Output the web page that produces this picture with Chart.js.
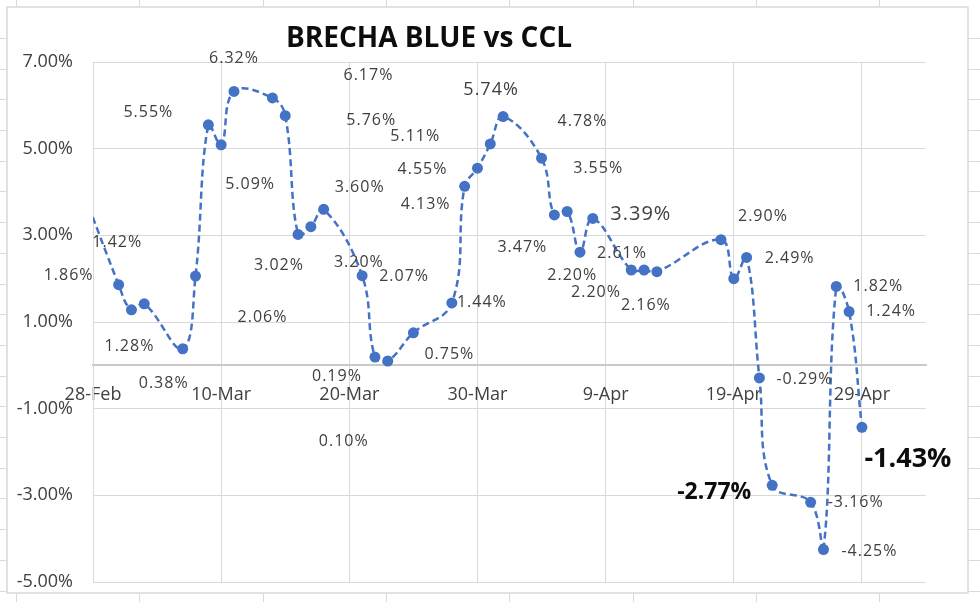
<!DOCTYPE html>
<html><head><meta charset="utf-8">
<script src="https://cdn.jsdelivr.net/npm/chart.js@4.4.0/dist/chart.umd.min.js"></script>
<style>html,body{margin:0;padding:0;background:#fff;overflow:hidden}#wrap{position:relative;width:980px;height:602px}</style>
</head><body><div id="wrap"><canvas id="c" width="980" height="602"></canvas></div>
<script>
const chartTitle = 'BRECHA BLUE vs CCL';
const baseDate = '2022-02-28';
const dates = ['2022-02-25','2022-03-02','2022-03-03','2022-03-04','2022-03-07','2022-03-08','2022-03-09','2022-03-10','2022-03-11',
  '2022-03-14','2022-03-15','2022-03-16','2022-03-17','2022-03-18','2022-03-21','2022-03-22','2022-03-23','2022-03-25',
  '2022-03-28','2022-03-29','2022-03-30','2022-03-31','2022-04-01','2022-04-04','2022-04-05','2022-04-06','2022-04-07','2022-04-08',
  '2022-04-11','2022-04-12','2022-04-13','2022-04-18','2022-04-19','2022-04-20','2022-04-21','2022-04-22','2022-04-25','2022-04-26',
  '2022-04-27','2022-04-28','2022-04-29'];
const values = [5.80,1.86,1.28,1.42,0.38,2.06,5.55,5.09,6.32,
  6.17,5.76,3.02,3.20,3.60,2.07,0.19,0.10,0.75,
  1.44,4.13,4.55,5.11,5.74,4.78,3.47,3.55,2.61,3.39,
  2.20,2.20,2.16,2.90,2.00,2.49,-0.29,-2.77,-3.16,-4.25,
  1.82,1.24,-1.43];
const xTickDates = ['2022-02-28','2022-03-10','2022-03-20','2022-03-30','2022-04-09','2022-04-19','2022-04-29'];
const xTickLabels = ['28-Feb','10-Mar','20-Mar','30-Mar','9-Apr','19-Apr','29-Apr'];
const yTicks = [-5,-3,-1,1,3,5,7];

// label placement relative to each point (pixels) and label style; null = no label
const labelOffsets = [null,[-50,-9],[-2,37],[-27,-61],[-19,35],[67,41],[-60,-12],[29,40],[0,-33],
  [96,-23],[86,5],[-19,31],[48,36],[36,-22],[42,1],[-38,19],[-44,80],[36,22],
  [30,0],[-39,18],[-55,1],[-75,-7],[-12,-27],[41,-37],[-32,32],[31,-43],[42,1],[48,-4],
  [-59,5],[-48,22],[-11,34],[42,-23],null,[43,1],[45,2],[-58,7],[45,0],[46,2],
  [42,0],[42,0],[46,32]];
const labelStyles = ['n','n','n','n','n','n','n','n','n',
  'n','n','n','n','n','n','n','n','n',
  'n','n','n','n','m','n','n','n','n','l',
  'n','n','n','n','n','n','n','b','n','n',
  'n','n','B'];
const styleFonts = {n:'16px "Open Sans"', m:'18px "Open Sans"', l:'20px "Open Sans"', b:'bold 23px "Open Sans"', B:'bold 27px "Open Sans"'};

const DAY = 86400000;
const toDay = s => Math.round((Date.parse(s + 'T00:00:00Z') - Date.parse(baseDate + 'T00:00:00Z')) / DAY);
const points = dates.map((d, i) => ({x: toDay(d), y: values[i]}));
const xTickDays = xTickDates.map(toDay);
const BLUE = '#4472C4';
const FONT = '"Open Sans", "Noto Sans", sans-serif';

const framePlugin = {
  id: 'frame',
  beforeDraw(chart) {
    const ctx = chart.ctx;
    ctx.save();
    ctx.fillStyle = '#fff';
    ctx.fillRect(0, 0, 980, 602);
    ctx.strokeStyle = '#dadada';
    ctx.lineWidth = 1;
    // spreadsheet cell lines outside chart
    ctx.beginPath();
    for (let x = 16; x < 980; x += 123.3) {
      ctx.moveTo(Math.round(x) + 0.5, 0); ctx.lineTo(Math.round(x) + 0.5, 7);
      ctx.moveTo(Math.round(x) + 0.5, 593); ctx.lineTo(Math.round(x) + 0.5, 602);
    }
    for (let y = 38; y < 602; y += 30.7) {
      ctx.moveTo(0, Math.round(y) + 0.5); ctx.lineTo(7, Math.round(y) + 0.5);
      ctx.moveTo(968, Math.round(y) + 0.5); ctx.lineTo(980, Math.round(y) + 0.5);
    }
    ctx.stroke();
    ctx.strokeStyle = '#d9d9d9';
    ctx.lineWidth = 1.5;
    ctx.strokeRect(7, 7, 961, 586);
    ctx.restore();
  },
  afterDatasetsDraw(chart) {
    const ctx = chart.ctx;
    const meta = chart.getDatasetMeta(0);
    ctx.save();
    ctx.textAlign = 'center';
    ctx.textBaseline = 'middle';
    meta.data.forEach((pt, i) => {
      const off = labelOffsets[i];
      if (!off) return;
      const st = labelStyles[i];
      ctx.font = styleFonts[st];
      ctx.letterSpacing = (st === 'b' || st === 'B') ? '0px' : '1px';
      ctx.fillStyle = (st === 'b' || st === 'B') ? '#0d0d0d' : '#404040';
      const v = values[i];
      ctx.fillText(v.toFixed(2) + '%', pt.x + off[0], pt.y + off[1]);
    });
    ctx.restore();
  },
  afterDraw(chart) {
    const ctx = chart.ctx;
    ctx.save();
    ctx.font = 'bold 28px "Open Sans"';
    ctx.fillStyle = '#0d0d0d';
    ctx.textAlign = 'center';
    ctx.textBaseline = 'alphabetic';
    ctx.fillText(chartTitle, 429, 47);
    ctx.restore();
  }
};

new Chart(document.getElementById('c'), {
  type: 'line',
  data: {
    datasets: [{
      data: points,
      borderColor: BLUE,
      backgroundColor: BLUE,
      borderWidth: 2.5,
      borderDash: [7, 4],
      pointRadius: 5.5,
      pointBackgroundColor: BLUE,
      pointBorderColor: BLUE,
      pointBorderWidth: 0,
      tension: 0.4,
      clip: 0
    }]
  },
  options: {
    responsive: false,
    animation: false,
    devicePixelRatio: 1,
    layout: {padding: {left: 13, top: 62, right: 54, bottom: 20}},
    plugins: {legend: {display: false}, title: {display: false}, tooltip: {enabled: false}},
    scales: {
      x: {
        type: 'linear',
        position: {y: 0},
        min: 0,
        max: 65,
        afterBuildTicks: s => { s.ticks = xTickDays.map(v => ({value: v})); },
        ticks: {
          callback: v => xTickLabels[xTickDays.indexOf(v)],
          font: {family: FONT, size: 18},
          color: '#404040',
          padding: 19,
          maxRotation: 0,
          autoSkip: false
        },
        grid: {color: '#d9d9d9', lineWidth: 1, drawTicks: false},
        border: {display: true, color: '#c9c9c9', width: 2}
      },
      y: {
        min: -5,
        max: 7,
        afterBuildTicks: s => { s.ticks = yTicks.map(v => ({value: v})); },
        afterFit: s => { s.width = 80; },
        ticks: {
          callback: v => v.toFixed(2) + '%',
          font: {family: FONT, size: 18},
          color: '#404040',
          padding: 0
        },
        grid: {color: '#d9d9d9', lineWidth: 1, drawTicks: true, tickLength: 20, tickColor: 'rgba(0,0,0,0)'},
        border: {display: true, color: '#d9d9d9', width: 1}
      }
    }
  },
  plugins: [framePlugin]
});
</script>
</body></html>
